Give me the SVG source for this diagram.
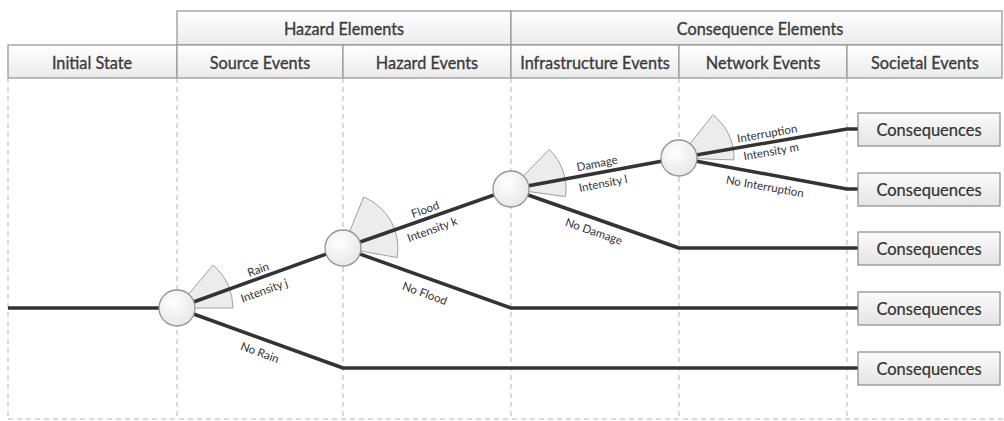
<svg xmlns="http://www.w3.org/2000/svg" width="1004" height="421" viewBox="0 0 1004 421">
<defs>
<linearGradient id="hdr" x1="0" y1="0" x2="0" y2="1"><stop offset="0" stop-color="#ffffff"/><stop offset="1" stop-color="#ebebeb"/></linearGradient>
<linearGradient id="box" x1="0" y1="0" x2="0" y2="1"><stop offset="0" stop-color="#fbfbfb"/><stop offset="1" stop-color="#e4e4e4"/></linearGradient>
<radialGradient id="circ" cx="0.4" cy="0.35" r="0.7"><stop offset="0" stop-color="#ffffff"/><stop offset="1" stop-color="#e6e6e6"/></radialGradient>
<style>
.hc{fill:url(#hdr);stroke:#9a9a9a;stroke-width:1.3}
.ht{font-family:Lato,"Liberation Sans",sans-serif;font-size:16.3px;fill:#3a3a3a;stroke:#3a3a3a;stroke-width:0.3;text-anchor:middle;dominant-baseline:central}
.grid{stroke:#b5b5b5;stroke-width:1;stroke-dasharray:5,4;fill:none}
.br{stroke:#333;stroke-width:3.5;fill:none;stroke-linejoin:round}
.fan{fill:#ececec;stroke:#a0a0a0;stroke-width:1}
.nd{fill:url(#circ);stroke:#959595;stroke-width:1.3}
.cb{fill:url(#box);stroke:#8a8a8a;stroke-width:1.2}
.ct{font-family:Lato,"Liberation Sans",sans-serif;font-size:16.5px;fill:#333;stroke:#333;stroke-width:0.2;text-anchor:middle;dominant-baseline:central}
.lb{font-family:Lato,"Liberation Sans",sans-serif;font-size:11.5px;fill:#333;text-anchor:middle;dominant-baseline:central}
</style>
</defs>
<rect width="1004" height="421" fill="#ffffff"/>
<g id="header">
<rect class="hc" x="177" y="11" width="334" height="34"/>
<rect class="hc" x="511" y="11" width="491" height="34"/>
<rect class="hc" x="8" y="45" width="169" height="33"/>
<rect class="hc" x="177" y="45" width="166" height="33"/>
<rect class="hc" x="343" y="45" width="168" height="33"/>
<rect class="hc" x="511" y="45" width="168" height="33"/>
<rect class="hc" x="679" y="45" width="168" height="33"/>
<rect class="hc" x="847" y="45" width="155" height="33"/>
<text class="ht" x="344" y="28">Hazard Elements</text>
<text class="ht" x="760" y="28">Consequence Elements</text>
<text class="ht" x="92" y="62">Initial State</text>
<text class="ht" x="260" y="62">Source Events</text>
<text class="ht" x="427" y="62">Hazard Events</text>
<text class="ht" x="595" y="62">Infrastructure Events</text>
<text class="ht" x="763" y="62">Network Events</text>
<text class="ht" x="925" y="62">Societal Events</text>
</g>
<g id="grid">
<path class="grid" d="M8,78V419M177,78V419M343,78V419M511,78V419M679,78V419M847,78V419M8,419H1004"/>
</g>
<g id="fans">
<path class="fan" d="M177,308L213,265.1A56,56 0 0 1 233,308Z"/>
<path class="fan" d="M343,248L363.6,197A55,55 0 0 1 397.2,257.5Z"/>
<path class="fan" d="M511,189L549.2,149.4A55,55 0 0 1 565.5,196.7Z"/>
<path class="fan" d="M679,158L712.9,114.7A55,55 0 0 1 734,159.9Z"/>
</g>
<g id="connectors">
<path class="br" d="M8,308H177"/>
<path class="br" d="M177,308L343,248"/>
<path class="br" d="M177,308L343,368H858"/>
<path class="br" d="M343,248L511,189"/>
<path class="br" d="M343,248L511,308H858"/>
<path class="br" d="M511,189L679,158"/>
<path class="br" d="M511,189L679,248H858"/>
<path class="br" d="M679,158L847,129H858"/>
<path class="br" d="M679,158L847,189H858"/>
</g>
<g id="labels">
<text class="lb" transform="translate(258,269) rotate(-20)">Rain</text>
<text class="lb" transform="translate(264,290) rotate(-20)">Intensity j</text>
<text class="lb" transform="translate(260,352) rotate(20)">No Rain</text>
<text class="lb" transform="translate(425,209) rotate(-20)">Flood</text>
<text class="lb" transform="translate(432,229) rotate(-20)">Intensity k</text>
<text class="lb" transform="translate(425,293) rotate(20)">No Flood</text>
<text class="lb" transform="translate(597,163) rotate(-11)">Damage</text>
<text class="lb" transform="translate(603,183) rotate(-11)">Intensity l</text>
<text class="lb" transform="translate(594,231) rotate(19)">No Damage</text>
<text class="lb" transform="translate(767,133) rotate(-10)">Interruption</text>
<text class="lb" transform="translate(771,151) rotate(-10)">Intensity m</text>
<text class="lb" transform="translate(765,186) rotate(10)">No Interruption</text>
</g>
<g id="node-initial"><circle class="nd" cx="177" cy="308" r="18"/></g>
<g id="node-source"><circle class="nd" cx="343" cy="248" r="18"/></g>
<g id="node-hazard"><circle class="nd" cx="511" cy="189" r="18"/></g>
<g id="node-infra"><circle class="nd" cx="679" cy="158" r="18"/></g>
<g id="cons1"><rect class="cb" x="858" y="113" width="142" height="33"/><text class="ct" x="929" y="129.5">Consequences</text></g>
<g id="cons2"><rect class="cb" x="858" y="173" width="142" height="33"/><text class="ct" x="929" y="189.5">Consequences</text></g>
<g id="cons3"><rect class="cb" x="858" y="232" width="142" height="33"/><text class="ct" x="929" y="248.5">Consequences</text></g>
<g id="cons4"><rect class="cb" x="858" y="292" width="142" height="33"/><text class="ct" x="929" y="308.5">Consequences</text></g>
<g id="cons5"><rect class="cb" x="858" y="352" width="142" height="33"/><text class="ct" x="929" y="368.5">Consequences</text></g>
</svg>
